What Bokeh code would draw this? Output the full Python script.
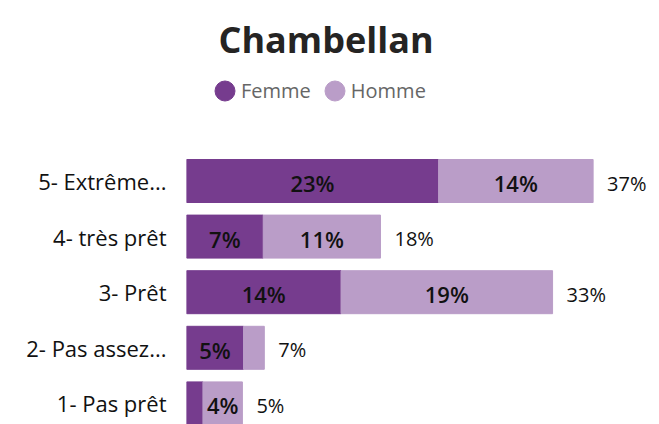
from bokeh.plotting import figure
from bokeh.models import ColumnDataSource, FixedTicker, Legend, LegendItem, Label, Range1d
from bokeh.core.properties import value
from bokeh.embed import file_html
from bokeh.resources import INLINE

# ---- data ----
categories = ["1- Pas prêt", "2- Pas assez...", "3- Prêt", "4- très prêt", "5- Extrême..."]
femme = [1.5, 5.2, 14.1, 7.0, 23.0]
homme = [3.6, 1.9, 19.3, 10.7, 14.1]
series_names = ["Femme", "Homme"]
chart_title = "Chambellan"

colors = ["#763C8E", "#BA9DC8"]
FONT = "Open Sans"
FONT_MED = "Open Sans SemiBold"

# ---- layout constants ----
W, H = 651, 424
LEFT = 186
PX_PER = 10.96
BAND = 55.6
TOP_CENTER = 180.5
n = len(categories)
ys = list(range(1, n + 1))
MIN_LABEL = 3  # segments smaller than this carry no label

total = [f + h for f, h in zip(femme, homme)]
src = ColumnDataSource(dict(y=ys, femme=femme, homme=homme, total=total,
                            ttxt=[f"{v:.0f}%" for v in total]))

seg_x, seg_y, seg_t = [], [], []
for y, f, h in zip(ys, femme, homme):
    if f >= MIN_LABEL:
        seg_x.append(f / 2); seg_y.append(y); seg_t.append(f"{f:.0f}%")
    if h >= MIN_LABEL:
        seg_x.append(f + h / 2); seg_y.append(y); seg_t.append(f"{h:.0f}%")
seg_src = ColumnDataSource(dict(x=seg_x, y=seg_y, t=seg_t))

p = figure(width=W, height=H, output_backend="svg", toolbar_location=None,
           x_range=Range1d(0, (W - LEFT) / PX_PER),
           y_range=Range1d(n - (H - TOP_CENTER) / BAND, n + TOP_CENTER / BAND),
           x_axis_location=None, title=None,
           min_border_left=LEFT, min_border_right=0, min_border_top=0, min_border_bottom=0)
p.outline_line_color = None
p.xgrid.visible = False
p.ygrid.visible = False

bar_h = 43 / BAND
p.hbar(y="y", left=0, right="femme", height=bar_h, color=colors[0], source=src)
p.hbar(y="y", left="femme", right="total", height=bar_h, color=colors[1], source=src)

p.text(x="x", y="y", text="t", source=seg_src, y_offset=2, text_align="center", text_baseline="middle",
       text_font=value(FONT_MED), text_font_size="22px", text_color="#111111")
p.text(x="total", y="y", text="ttxt", source=src, x_offset=14, y_offset=2, text_align="left",
       text_baseline="middle", text_font=value(FONT), text_font_size="20px", text_color="#111111")

yax = p.yaxis[0]
yax.ticker = FixedTicker(ticks=ys)
yax.major_label_overrides = {y: c for y, c in zip(ys, categories)}
yax.axis_line_color = None
yax.major_tick_line_color = None
yax.minor_tick_line_color = None
yax.major_tick_out = 0
yax.major_tick_in = 0
yax.major_label_standoff = 20
yax.major_label_text_font = FONT
yax.major_label_text_font_size = "22px"
yax.major_label_text_color = "#111111"

# legend (round markers, drawn via ellipses that fill 80% of the glyph box)
r1 = p.ellipse(x=[-100], y=[-100], width=10, height=10, width_units="screen",
               height_units="screen", color=colors[0])
r2 = p.ellipse(x=[-100], y=[-100], width=10, height=10, width_units="screen",
               height_units="screen", color=colors[1])
legend = Legend(items=[LegendItem(label=series_names[0], renderers=[r1]),
                       LegendItem(label=series_names[1], renderers=[r2])],
                location=(26, H - 104), orientation="horizontal",
                glyph_width=25, glyph_height=25, label_standoff=4, spacing=11,
                padding=0, margin=0, border_line_color=None, background_fill_alpha=0,
                label_text_font=FONT, label_text_font_size="20px", label_text_color="#666666",
                label_height=20)
p.add_layout(legend)

title = Label(x=325.5 - LEFT, y=H - 39, x_units="screen", y_units="screen", text=chart_title,
              text_align="center", text_baseline="alphabetic", text_font=FONT,
              text_font_size="36px", text_font_style="bold", text_color="#252423")
p.add_layout(title)

open("out.html", "w").write(file_html(p, INLINE))
